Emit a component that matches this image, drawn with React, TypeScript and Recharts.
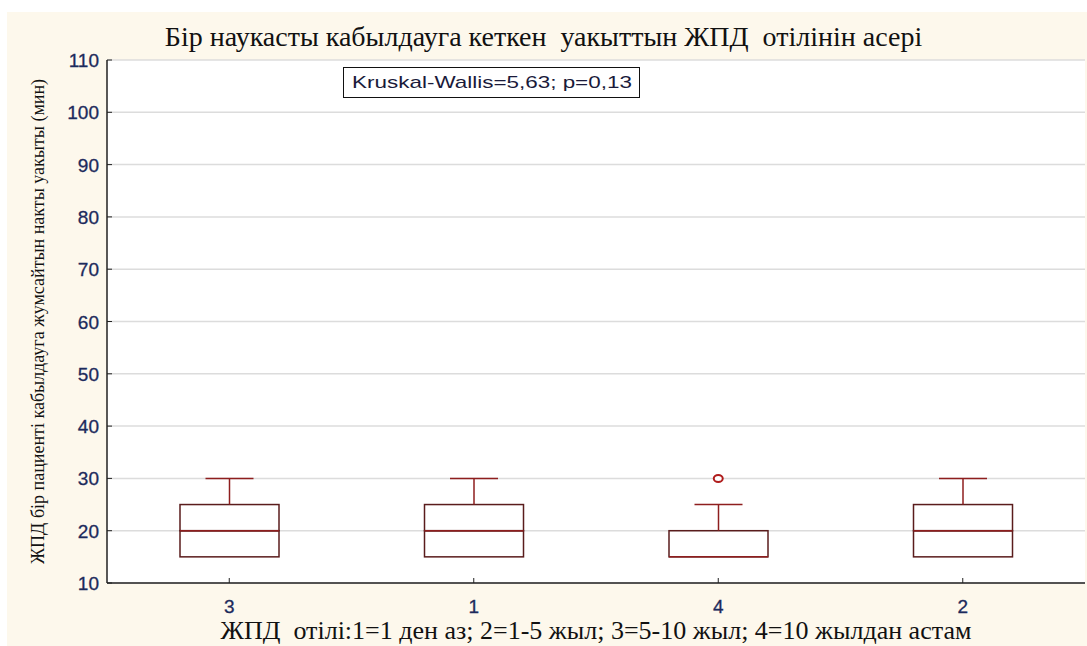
import React from "react";
import { ComposedChart, Bar, Scatter, XAxis, YAxis, CartesianGrid } from "recharts";

// experience groups, in the order they appear on the x axis
const groups = ["3", "1", "4", "2"];
const mins = [15, 15, 15, 15];
const q1s = [15, 15, 15, 15];
const medians = [20, 20, 15, 20];
const q3s = [25, 25, 20, 25];
const maxs = [30, 30, 25, 30];
const outliers: (number | null)[] = [null, null, 30, null];

const yTicks = [10, 20, 30, 40, 50, 60, 70, 80, 90, 100, 110];

const data = groups.map((g, i) => ({
  cat: g,
  base: mins[i],
  lowW: q1s[i] - mins[i],
  lowB: medians[i] - q1s[i],
  highB: q3s[i] - medians[i],
  highW: maxs[i] - q3s[i],
  outlier: outliers[i],
}));

const BOX = "#5a1c1c";
const RED = "#8e1e1e";
const NAVY = "#1c2a5c";
const CAP = 48;
const SERIF = "'Liberation Serif', 'Times New Roman', serif";
const SANS = "Arial, 'Liberation Sans', sans-serif";

function Empty() {
  return <g />;
}

function LowWhisker(p: any) {
  const { x, y, width, height } = p;
  if (!height) return <g />;
  const cx = x + width / 2;
  return (
    <g>
      <line x1={cx} x2={cx} y1={y} y2={y + height} stroke={RED} strokeWidth={1.5} />
      <line x1={cx - CAP / 2} x2={cx + CAP / 2} y1={y + height} y2={y + height} stroke={RED} strokeWidth={1.5} />
    </g>
  );
}

function HighWhisker(p: any) {
  const { x, y, width, height } = p;
  if (!height) return <g />;
  const cx = x + width / 2;
  return (
    <g>
      <line x1={cx} x2={cx} y1={y} y2={y + height} stroke={RED} strokeWidth={1.5} />
      <line x1={cx - CAP / 2} x2={cx + CAP / 2} y1={y} y2={y} stroke={RED} strokeWidth={1.5} />
    </g>
  );
}

function LowBox(p: any) {
  const { x, y, width, height } = p;
  if (!height) return <g />;
  return <rect x={x} y={y} width={width} height={height} fill="none" stroke={BOX} strokeWidth={1.5} />;
}

function HighBox(p: any) {
  const { x, y, width, height } = p;
  return (
    <g>
      <rect x={x} y={y} width={width} height={height} fill="none" stroke={BOX} strokeWidth={1.5} />
      <line x1={x} x2={x + width} y1={y + height} y2={y + height} stroke={RED} strokeWidth={1.5} />
    </g>
  );
}

function OutlierDot(p: any) {
  if (p.cx == null || p.cy == null || p.payload?.outlier == null) return <g />;
  return <ellipse cx={p.cx} cy={p.cy} rx={4.5} ry={3.5} fill="#fff" stroke="#b01c1c" strokeWidth={2} />;
}

function YTick(p: any) {
  const { x, y, payload } = p;
  return (
    <text x={x - 13} y={y} dy={7} textAnchor="end" fill={NAVY} fontSize={19} fontFamily={SANS} stroke={NAVY} strokeWidth={0.3}>
      {payload.value}
    </text>
  );
}

function XTick(p: any) {
  const { x, y, payload } = p;
  return (
    <text x={x} y={y} dy={35} textAnchor="middle" fill={NAVY} fontSize={19} fontFamily={SANS} stroke={NAVY} strokeWidth={0.3}>
      {payload.value}
    </text>
  );
}

export default function App() {
  return (
    <div style={{ position: "absolute", left: 0, top: 0, width: 1087, height: 646, background: "#fff" }}>
      <div style={{ position: "absolute", left: 7, top: 12, width: 1080, height: 634, background: "#fdf8ec" }} />
      <div
        style={{
          position: "absolute",
          left: 0,
          top: 20,
          width: 1087,
          textAlign: "center",
          fontFamily: SERIF,
          fontSize: 28,
          lineHeight: "34px",
          color: "#111",
          whiteSpace: "pre",
        }}
      >
        Бір наукасты кабылдауга кеткен  уакыттын ЖПД  отілінін асері
      </div>
      <div style={{ position: "absolute", left: 0, top: 0 }}>
        <ComposedChart width={1087} height={646} data={data} margin={{ top: 60, right: 2, bottom: 0, left: 7 }} barCategoryGap={0}>
          <CartesianGrid vertical={false} stroke="#dcdcdc" strokeWidth={1.5} fill="#fff" />
          <XAxis
            dataKey="cat"
            height={63}
            axisLine={{ stroke: "#222", strokeWidth: 1.5 }}
            tickLine={{ stroke: "#222" }}
            tickSize={-5}
            tickMargin={0}
            tick={<XTick />}
            label={{
              value: "ЖПД\u00a0 отілі:1=1 ден аз; 2=1-5 жыл; 3=5-10 жыл; 4=10 жылдан астам",
              position: "insideBottom",
              offset: 7,
              fill: "#111",
              fontSize: 26,
              fontFamily: SERIF,
            }}
          />
          <XAxis
            xAxisId="top"
            dataKey="cat"
            orientation="top"
            height={0}
            axisLine={{ stroke: "#222", strokeWidth: 1.5 }}
            tickLine={{ stroke: "#222" }}
            tickSize={-5}
            tick={<Empty />}
          />
          <YAxis
            domain={[10, 110]}
            ticks={yTicks}
            allowDataOverflow
            width={100}
            axisLine={{ stroke: "#222", strokeWidth: 1.5 }}
            tickLine={{ stroke: "#222" }}
            tickSize={-5}
            tickMargin={0}
            tick={<YTick />}
            label={{
              value: "ЖПД бір пациенті кабылдауга жумсайтын накты уакыты (мин)",
              angle: -90,
              position: "insideLeft",
              offset: 31,
              fill: "#111",
              fontSize: 18,
              fontFamily: SERIF,
              style: { textAnchor: "middle" },
            }}
          />
          <YAxis
            yAxisId="r"
            orientation="right"
            domain={[10, 110]}
            ticks={yTicks}
            width={0}
            axisLine={{ stroke: "#222", strokeWidth: 1.5 }}
            tickLine={{ stroke: "#222" }}
            tickSize={-5}
            tick={<Empty />}
          />
          <Bar dataKey="base" stackId="b" barSize={99} shape={<Empty />} isAnimationActive={false} />
          <Bar dataKey="lowW" stackId="b" barSize={99} shape={<LowWhisker />} isAnimationActive={false} />
          <Bar dataKey="lowB" stackId="b" barSize={99} shape={<LowBox />} isAnimationActive={false} />
          <Bar dataKey="highB" stackId="b" barSize={99} shape={<HighBox />} isAnimationActive={false} />
          <Bar dataKey="highW" stackId="b" barSize={99} shape={<HighWhisker />} isAnimationActive={false} />
          <Scatter dataKey="outlier" shape={<OutlierDot />} isAnimationActive={false} />
        </ComposedChart>
      </div>
      <div
        style={{
          position: "absolute",
          left: 343,
          top: 67,
          width: 295,
          height: 29,
          border: "1.5px solid #111",
          background: "#fff",
          fontFamily: SANS,
          fontSize: 17,
          lineHeight: "29px",
          textAlign: "center",
          color: "#1a1a3a",
          overflow: "hidden",
        }}
      >
        <span style={{ display: "inline-block", transform: "scaleX(1.32)" }}>Kruskal-Wallis=5,63; p=0,13</span>
      </div>
    </div>
  );
}
